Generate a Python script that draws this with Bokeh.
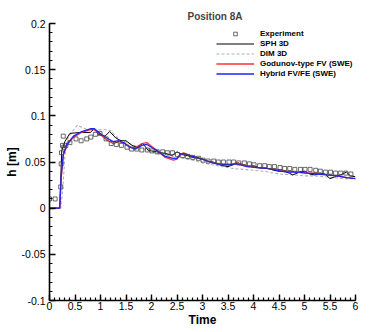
from bokeh.plotting import figure
from bokeh.models import (Legend, LegendItem, FixedTicker, Range1d)
from bokeh.embed import file_html
from bokeh.resources import INLINE

# ---------------- data ----------------
exp_t = [0, 0.11, 0.22, 0.23, 0.235, 0.255, 0.27, 0.28, 0.32, 0.40, 0.52, 0.62, 0.73, 0.81,
         0.90, 0.99, 1.11, 1.21, 1.31, 1.41, 1.52, 1.61, 1.71, 1.81, 1.92, 2.01, 2.11, 2.22,
         2.31, 2.41, 2.51, 2.61, 2.71, 2.81, 2.92, 3.01, 3.11, 3.22, 3.31, 3.41, 3.52, 3.61,
         3.71, 3.82, 3.92, 4.01, 4.12, 4.22, 4.31, 4.41, 4.52, 4.61, 4.71, 4.81, 4.92, 5.01,
         5.11, 5.22, 5.31, 5.41, 5.51, 5.61, 5.71, 5.81, 5.91]
exp_h = [0.010, 0.010, 0.023, 0.048, 0.060, 0.068, 0.078, 0.066, 0.068, 0.071, 0.075, 0.073,
         0.075, 0.077, 0.080, 0.081, 0.075, 0.070, 0.069, 0.068, 0.066, 0.064, 0.064, 0.063,
         0.063, 0.062, 0.061, 0.061, 0.060, 0.060, 0.058, 0.057, 0.056, 0.055, 0.054, 0.052,
         0.051, 0.051, 0.050, 0.050, 0.050, 0.050, 0.049, 0.049, 0.048, 0.047, 0.046, 0.046,
         0.045, 0.045, 0.044, 0.043, 0.043, 0.042, 0.042, 0.042, 0.042, 0.041, 0.040, 0.039,
         0.039, 0.038, 0.038, 0.038, 0.037]

sph_t = [0, 0.20, 0.24, 0.30, 0.40, 0.60, 0.80, 0.88, 0.96, 1.09, 1.18, 1.30, 1.40, 1.50,
         1.62, 1.71, 1.83, 1.93, 2.0, 2.1, 2.2, 2.3, 2.4, 2.5, 2.6, 2.7, 2.8, 2.9, 3.0, 3.1,
         3.2, 3.3, 3.4, 3.5, 3.6, 3.7, 3.8, 3.9, 4.0, 4.1, 4.2, 4.3, 4.4, 4.5, 4.6, 4.7, 4.77,
         4.9, 5.0, 5.1, 5.2, 5.3, 5.4, 5.5, 5.6, 5.7, 5.82, 5.9, 6.0]
sph_h = [0, 0, 0.062, 0.072, 0.081, 0.082, 0.082, 0.086, 0.080, 0.078, 0.083, 0.076, 0.073,
         0.073, 0.068, 0.066, 0.070, 0.063, 0.062, 0.061, 0.060, 0.059, 0.057, 0.061, 0.058,
         0.057, 0.055, 0.054, 0.053, 0.051, 0.050, 0.048, 0.046, 0.045, 0.047, 0.049, 0.047,
         0.045, 0.046, 0.044, 0.043, 0.043, 0.041, 0.040, 0.040, 0.038, 0.036, 0.039, 0.040,
         0.037, 0.036, 0.038, 0.037, 0.032, 0.034, 0.036, 0.039, 0.035, 0.034]

dim_t = [0, 0.22, 0.26, 0.30, 0.35, 0.45, 0.55, 0.65, 0.75, 0.9, 1.0, 1.1, 1.2, 1.3, 1.4,
         1.6, 1.8, 2.0, 2.2, 2.4, 2.6, 2.8, 3.0, 3.2, 3.4, 3.6, 3.8, 4.0, 4.2, 4.5, 4.8, 5.0,
         5.2, 5.4, 5.6, 5.8, 6.0]
dim_h = [0, 0, 0.020, 0.055, 0.075, 0.083, 0.090, 0.087, 0.085, 0.085, 0.085, 0.085, 0.084,
         0.078, 0.073, 0.069, 0.065, 0.061, 0.058, 0.056, 0.054, 0.052, 0.049, 0.047, 0.045,
         0.043, 0.042, 0.041, 0.040, 0.037, 0.036, 0.035, 0.035, 0.034, 0.033, 0.032, 0.032]

swe_t = [0, 0.2, 0.23, 0.27, 0.34, 0.47, 0.63, 0.80, 0.88, 0.99, 1.12, 1.25, 1.35, 1.45,
         1.58, 1.68, 1.81, 1.91, 2.0, 2.14, 2.27, 2.43, 2.5, 2.56, 2.63, 2.76, 2.95, 3.15,
         3.35, 3.54, 3.67, 3.87, 4.07, 4.26, 4.46, 4.65, 4.85, 5.05, 5.24, 5.44, 5.63, 5.83, 6.0]
hyb_h = [0, 0, 0.035, 0.058, 0.069, 0.078, 0.083, 0.086, 0.086, 0.081, 0.076, 0.072, 0.073,
         0.071, 0.066, 0.064, 0.068, 0.069, 0.066, 0.061, 0.056, 0.054, 0.054, 0.058, 0.059,
         0.057, 0.054, 0.050, 0.047, 0.047, 0.048, 0.045, 0.044, 0.043, 0.041, 0.039, 0.039,
         0.038, 0.037, 0.036, 0.035, 0.033, 0.032]
god_h = [0, 0, 0.033, 0.057, 0.068, 0.077, 0.082, 0.085, 0.085, 0.080, 0.074, 0.070, 0.072,
         0.071, 0.066, 0.065, 0.070, 0.071, 0.067, 0.061, 0.055, 0.052, 0.053, 0.058, 0.060,
         0.057, 0.054, 0.050, 0.048, 0.047, 0.049, 0.046, 0.044, 0.043, 0.042, 0.040, 0.039,
         0.038, 0.038, 0.036, 0.035, 0.033, 0.032]

x_ticks = [0, 0.5, 1, 1.5, 2, 2.5, 3, 3.5, 4, 4.5, 5, 5.5, 6]
x_tick_labels = ["0", "0.5", "1", "1.5", "2", "2.5", "3", "3.5", "4", "4.5", "5", "5.5", "6"]
y_ticks = [-0.1, -0.05, 0, 0.05, 0.1, 0.15, 0.2]
y_tick_labels = ["-0.1", "-0.05", "0", "0.05", "0.1", "0.15", "0.2"]
series_names = ["Experiment", "SPH 3D", "DIM 3D", "Godunov-type FV (SWE)", "Hybrid FV/FE (SWE)"]

FONT = "Liberation Sans"

p = figure(width=372, height=329, output_backend="svg", toolbar_location=None,
           x_range=Range1d(0, 6), y_range=Range1d(-0.1, 0.2),
           min_border_left=49, min_border_right=17, min_border_top=23, min_border_bottom=29,
           title="Position 8A")
p.outline_line_color = None
p.xgrid.visible = False
p.ygrid.visible = False
p.background_fill_color = "white"
p.border_fill_color = "white"

p.title.text_font = FONT
p.title.text_font_size = "10px"
p.title.text_font_style = "bold"
p.title.align = "left"
p.title.offset = 138
p.title.standoff = 4

# axes
for ax in (p.xaxis[0], p.yaxis[0]):
    ax.axis_line_width = 1.6
    ax.major_tick_line_width = 1.4
    ax.minor_tick_line_width = 1.2
    ax.axis_line_color = "black"
    ax.major_tick_line_color = "black"
    ax.minor_tick_line_color = "black"
    ax.major_tick_in = 6
    ax.major_tick_out = 0
    ax.minor_tick_in = 3
    ax.minor_tick_out = 0
    ax.major_label_text_font = FONT
    ax.major_label_text_font_size = "10.5px"
    ax.major_label_text_color = "black"
    ax.axis_label_text_font = FONT
    ax.axis_label_text_font_style = "bold"
    ax.axis_label_text_color = "black"

x_minor = [round(i * 0.1, 2) for i in range(0, 61)]
y_minor = [round(-0.1 + i * 0.01, 3) for i in range(0, 31)]
p.xaxis[0].ticker = FixedTicker(ticks=x_ticks, minor_ticks=x_minor)
p.yaxis[0].ticker = FixedTicker(ticks=y_ticks, minor_ticks=y_minor)
p.xaxis[0].major_label_overrides = {t: l for t, l in zip(x_ticks, x_tick_labels)}
p.yaxis[0].major_label_overrides = {t: l for t, l in zip(y_ticks, y_tick_labels)}
p.xaxis[0].axis_label = "Time"
p.yaxis[0].axis_label = "h [m]"
p.xaxis[0].axis_label_text_font_size = "12px"
p.yaxis[0].axis_label_text_font_size = "12px"
p.xaxis[0].major_label_standoff = 1
p.yaxis[0].major_label_standoff = 4
p.xaxis[0].axis_label_standoff = 0
p.yaxis[0].axis_label_standoff = 0

# glyphs
r_dim = p.line(dim_t, dim_h, line_color="#b0b0b0", line_width=1.1, line_dash="3 2")
r_sph = p.line(sph_t, sph_h, line_color="black", line_width=1.0)
r_god = p.line(swe_t, god_h, line_color="#ff3030", line_width=1.3)
r_hyb = p.line(swe_t, hyb_h, line_color="#2020ff", line_width=1.3)
r_exp = p.scatter(exp_t, exp_h, marker="square", size=4, fill_color=None,
                  line_color="#444444", line_width=0.8)

legend = Legend(items=[
    LegendItem(label=series_names[0], renderers=[r_exp]),
    LegendItem(label=series_names[1], renderers=[r_sph]),
    LegendItem(label=series_names[2], renderers=[r_dim]),
    LegendItem(label=series_names[3], renderers=[r_god]),
    LegendItem(label=series_names[4], renderers=[r_hyb]),
], location=(167, 222))
legend.background_fill_alpha = 0
legend.border_line_color = None
legend.label_text_font = FONT
legend.label_text_font_size = "8px"
legend.label_text_font_style = "bold"
legend.label_text_color = "black"
legend.glyph_width = 38
legend.glyph_height = 9
legend.label_height = 9
legend.label_standoff = 6
legend.spacing = 1
legend.padding = 2
legend.margin = 0
p.add_layout(legend, "center")

open("out.html", "w").write(file_html(p, INLINE))
